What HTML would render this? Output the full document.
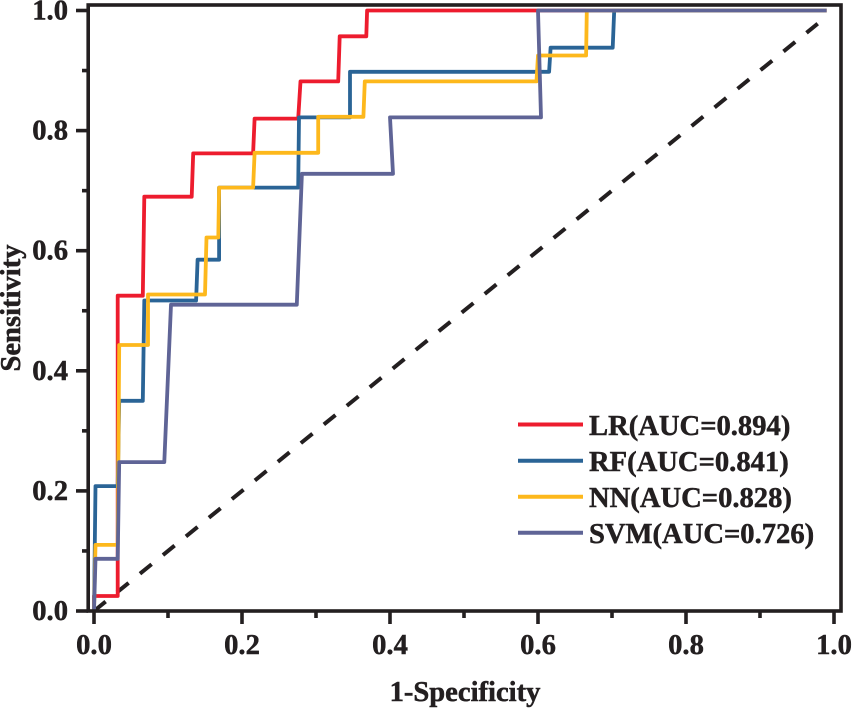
<!DOCTYPE html>
<html lang="en">
<head>
<meta charset="utf-8">
<title>ROC curves</title>
<style>
html,body{margin:0;padding:0;background:#fff;width:854px;height:708px;overflow:hidden}
svg{display:block}
text{font-family:"Liberation Serif",serif;font-weight:bold;font-size:28.6px;fill:#231f20;stroke:#231f20;stroke-width:.5px}
</style>
</head>
<body>
<svg id="chart" width="854" height="708" viewBox="0 0 854 708">
  <g id="marks"></g>
  <rect x="88.2" y="5" width="752.8" height="606" fill="none" stroke="#231f20" stroke-width="3.6"/>
  <g id="axes"></g>
  <text x="465" y="701" text-anchor="middle">1-Specificity</text>
  <text x="0" y="0" transform="translate(20,308) rotate(-90)" text-anchor="middle">Sensitivity</text>
  <g>
    <line x1="518" x2="583" y1="424.5" y2="424.5" stroke="#ed1c2e" stroke-width="4"/>
    <text x="589" y="435">LR(AUC=0.894)</text>
    <line x1="518" x2="583" y1="460.7" y2="460.7" stroke="#2a6496" stroke-width="4"/>
    <text x="589" y="471">RF(AUC=0.841)</text>
    <line x1="518" x2="583" y1="496.7" y2="496.7" stroke="#fdb81c" stroke-width="4"/>
    <text x="589" y="507">NN(AUC=0.828)</text>
    <line x1="518" x2="583" y1="532.7" y2="532.7" stroke="#5f6496" stroke-width="4"/>
    <text x="589" y="543">SVM(AUC=0.726)</text>
  </g>
</svg>
<script>
var majorTicks = ["0.0", "0.2", "0.4", "0.6", "0.8", "1.0"];
var minorTicks = [0.1, 0.3, 0.5, 0.7, 0.9];

var lrX = [0, 0, 0.032, 0.032, 0.066, 0.068, 0.132, 0.134, 0.215, 0.217, 0.276, 0.279, 0.330, 0.332, 0.368, 0.369, 0.99];
var lrY = [0, 0.025, 0.025, 0.525, 0.525, 0.69, 0.69, 0.762, 0.762, 0.82, 0.82, 0.882, 0.882, 0.957, 0.957, 1, 1];

var rfX = [0, 0.002, 0.032, 0.034, 0.066, 0.068, 0.138, 0.140, 0.169, 0.169, 0.276, 0.277, 0.346, 0.346, 0.615, 0.617, 0.701, 0.703, 0.99];
var rfY = [0, 0.208, 0.208, 0.35, 0.35, 0.517, 0.517, 0.585, 0.585, 0.705, 0.705, 0.822, 0.822, 0.898, 0.898, 0.938, 0.938, 1, 1];

var nnX = [0, 0.002, 0.032, 0.034, 0.073, 0.073, 0.150, 0.152, 0.168, 0.169, 0.215, 0.217, 0.303, 0.303, 0.364, 0.366, 0.598, 0.600, 0.665, 0.666, 0.99];
var nnY = [0, 0.11, 0.11, 0.443, 0.443, 0.527, 0.527, 0.622, 0.622, 0.705, 0.705, 0.763, 0.763, 0.823, 0.823, 0.882, 0.882, 0.925, 0.925, 1, 1];

var svmX = [0, 0.002, 0.032, 0.034, 0.095, 0.104, 0.274, 0.281, 0.404, 0.400, 0.604, 0.600, 0.99];
var svmY = [0, 0.087, 0.087, 0.248, 0.248, 0.51, 0.51, 0.728, 0.728, 0.822, 0.822, 1, 1];

var refX = [0, 0.978];
var refY = [0, 0.978];

function xScale(v) { return 94 + 740 * v; }
function yScale(v) { return 611 - 600.5 * v; }

var NS = "http://www.w3.org/2000/svg";
var marks = document.getElementById("marks");
var axes = document.getElementById("axes");
var INK = "#231f20";

function pointsOf(xs, ys) {
  return xs.map(function (x, i) { return xScale(x).toFixed(1) + "," + yScale(ys[i]).toFixed(1); }).join(" ");
}
function drawSeries(xs, ys, colour, width, name) {
  var el = document.createElementNS(NS, "polyline");
  el.setAttribute("points", pointsOf(xs, ys));
  el.setAttribute("fill", "none");
  el.setAttribute("stroke", colour);
  el.setAttribute("stroke-width", width);
  el.setAttribute("stroke-linejoin", "round");
  
  
  marks.appendChild(el);
  return el;
}
function drawTick(x1, y1, x2, y2, name) {
  var el = document.createElementNS(NS, "line");
  el.setAttribute("x1", x1);
  el.setAttribute("y1", y1);
  el.setAttribute("x2", x2);
  el.setAttribute("y2", y2);
  el.setAttribute("stroke", INK);
  el.setAttribute("stroke-width", 3.6);
  
  
  axes.appendChild(el);
}
function drawLabel(x, y, anchor, label, name) {
  var el = document.createElementNS(NS, "text");
  el.setAttribute("x", x);
  el.setAttribute("y", y);
  el.setAttribute("text-anchor", anchor);
  el.textContent = label;
  
  
  axes.appendChild(el);
}

var ref = drawSeries(refX, refY, INK, 4, "chance-diagonal");
ref.setAttribute("stroke-dasharray", "15 14.6");
drawSeries(lrX, lrY, "#ed1c2e", 3.8, "series-lr");
drawSeries(rfX, rfY, "#2a6496", 3.8, "series-rf");
drawSeries(nnX, nnY, "#fdb81c", 3.8, "series-nn");
drawSeries(svmX, svmY, "#5f6496", 3.8, "series-svm");

majorTicks.forEach(function (label) {
  var v = parseFloat(label);
  drawTick(xScale(v), 611, xScale(v), 624, "x-tick-major");
  drawTick(76, yScale(v), 88, yScale(v), "y-tick-major");
  drawLabel(xScale(v), 654, "middle", label, "x-tick-label");
  drawLabel(68, yScale(v) + 9, "end", label, "y-tick-label");
});
minorTicks.forEach(function (v) {
  drawTick(xScale(v), 611, xScale(v), 618, "x-tick-minor");
  drawTick(82, yScale(v), 88, yScale(v), "y-tick-minor");
});
</script>
</body>
</html>
